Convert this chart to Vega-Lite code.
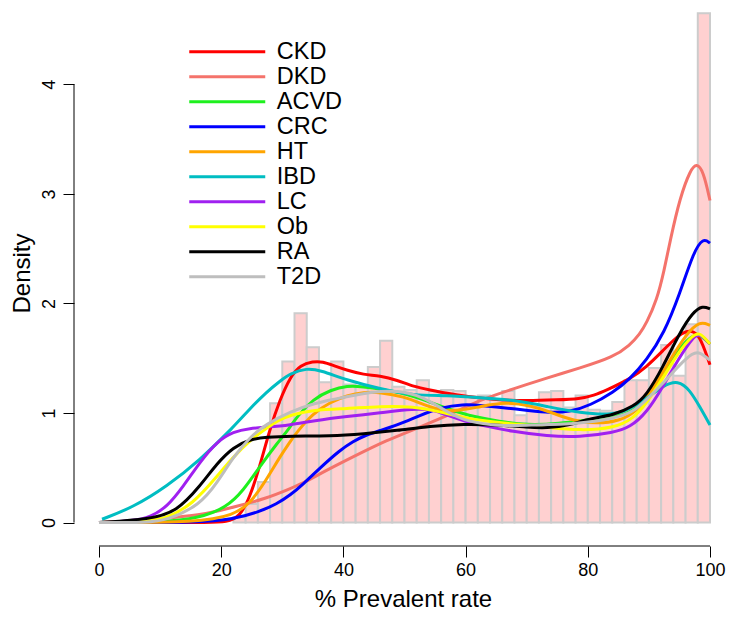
{
  "$schema": "https://vega.github.io/schema/vega-lite/v6.json",
  "width": 658,
  "height": 546,
  "autosize": {"type": "none"},
  "padding": {"left": 74, "top": 0, "right": 0, "bottom": 73},
  "background": "white",
  "config": {
    "view": {"stroke": null},
    "font": "Liberation Sans",
    "axis": {"grid": false, "domain": false, "tickColor": "black", "tickSize": 11, "tickWidth": 1, "labelColor": "black", "titleColor": "black", "labelFont": "Liberation Sans", "titleFont": "Liberation Sans", "titleFontWeight": "normal", "labelFontSize": 18, "titleFontSize": 24}
  },
  "datasets": {
    "hist": [
      {"x0": 22, "x1": 24, "d": 0.05}, {"x0": 24, "x1": 26, "d": 0.17}, {"x0": 26, "x1": 28, "d": 0.37},
      {"x0": 28, "x1": 30, "d": 1.09}, {"x0": 30, "x1": 32, "d": 1.47}, {"x0": 32, "x1": 34, "d": 1.91},
      {"x0": 34, "x1": 36, "d": 1.60}, {"x0": 36, "x1": 38, "d": 1.28}, {"x0": 38, "x1": 40, "d": 1.47},
      {"x0": 40, "x1": 42, "d": 1.26}, {"x0": 42, "x1": 44, "d": 1.24}, {"x0": 44, "x1": 46, "d": 1.42},
      {"x0": 46, "x1": 48, "d": 1.66}, {"x0": 48, "x1": 50, "d": 1.24}, {"x0": 50, "x1": 52, "d": 1.21},
      {"x0": 52, "x1": 54, "d": 1.30}, {"x0": 54, "x1": 56, "d": 1.20}, {"x0": 56, "x1": 58, "d": 1.21},
      {"x0": 58, "x1": 60, "d": 1.20}, {"x0": 60, "x1": 62, "d": 1.15}, {"x0": 62, "x1": 64, "d": 1.16},
      {"x0": 64, "x1": 66, "d": 1.12}, {"x0": 66, "x1": 68, "d": 1.20}, {"x0": 68, "x1": 70, "d": 0.98},
      {"x0": 70, "x1": 72, "d": 1.06}, {"x0": 72, "x1": 74, "d": 1.19}, {"x0": 74, "x1": 76, "d": 1.20},
      {"x0": 76, "x1": 78, "d": 1.05}, {"x0": 78, "x1": 80, "d": 1.16}, {"x0": 80, "x1": 82, "d": 1.03},
      {"x0": 82, "x1": 84, "d": 1.02}, {"x0": 84, "x1": 86, "d": 1.10}, {"x0": 86, "x1": 88, "d": 1.30},
      {"x0": 88, "x1": 90, "d": 1.30}, {"x0": 90, "x1": 92, "d": 1.41}, {"x0": 92, "x1": 94, "d": 1.62},
      {"x0": 94, "x1": 96, "d": 1.34}, {"x0": 96, "x1": 98, "d": 1.81}, {"x0": 98, "x1": 100, "d": 4.65}
    ],
    "dens": [
      {"g": "CKD", "x": 0, "y": 0}, {"g": "CKD", "x": 10, "y": 0}, {"g": "CKD", "x": 18, "y": 0}, {"g": "CKD", "x": 20.9, "y": 0.005},
      {"g": "CKD", "x": 23, "y": 0.05}, {"g": "CKD", "x": 24.7, "y": 0.23}, {"g": "CKD", "x": 26.3, "y": 0.51}, {"g": "CKD", "x": 28, "y": 0.86},
      {"g": "CKD", "x": 29.6, "y": 1.12}, {"g": "CKD", "x": 31.3, "y": 1.33}, {"g": "CKD", "x": 33, "y": 1.44}, {"g": "CKD", "x": 35, "y": 1.47},
      {"g": "CKD", "x": 36.6, "y": 1.47}, {"g": "CKD", "x": 38.5, "y": 1.43}, {"g": "CKD", "x": 40.6, "y": 1.39}, {"g": "CKD", "x": 43.3, "y": 1.35},
      {"g": "CKD", "x": 46, "y": 1.34}, {"g": "CKD", "x": 48.8, "y": 1.30}, {"g": "CKD", "x": 51.5, "y": 1.24}, {"g": "CKD", "x": 54.2, "y": 1.21},
      {"g": "CKD", "x": 56.9, "y": 1.18}, {"g": "CKD", "x": 60.2, "y": 1.15}, {"g": "CKD", "x": 65, "y": 1.12}, {"g": "CKD", "x": 70, "y": 1.11},
      {"g": "CKD", "x": 75, "y": 1.12}, {"g": "CKD", "x": 78.7, "y": 1.13}, {"g": "CKD", "x": 81, "y": 1.16}, {"g": "CKD", "x": 83.1, "y": 1.21},
      {"g": "CKD", "x": 86.9, "y": 1.31}, {"g": "CKD", "x": 89.6, "y": 1.42}, {"g": "CKD", "x": 92.3, "y": 1.57}, {"g": "CKD", "x": 95, "y": 1.72},
      {"g": "CKD", "x": 96.7, "y": 1.76}, {"g": "CKD", "x": 98.1, "y": 1.72}, {"g": "CKD", "x": 99.2, "y": 1.57}, {"g": "CKD", "x": 100, "y": 1.44},

      {"g": "DKD", "x": 0, "y": 0}, {"g": "DKD", "x": 5, "y": 0.01}, {"g": "DKD", "x": 11.1, "y": 0.04}, {"g": "DKD", "x": 16.5, "y": 0.07},
      {"g": "DKD", "x": 19.8, "y": 0.11}, {"g": "DKD", "x": 22, "y": 0.14}, {"g": "DKD", "x": 27.4, "y": 0.22}, {"g": "DKD", "x": 31.3, "y": 0.31},
      {"g": "DKD", "x": 33.4, "y": 0.36}, {"g": "DKD", "x": 37, "y": 0.47}, {"g": "DKD", "x": 41.6, "y": 0.60}, {"g": "DKD", "x": 47, "y": 0.75},
      {"g": "DKD", "x": 52.5, "y": 0.87}, {"g": "DKD", "x": 58, "y": 1.0}, {"g": "DKD", "x": 62.4, "y": 1.12}, {"g": "DKD", "x": 67.8, "y": 1.22},
      {"g": "DKD", "x": 73.3, "y": 1.32}, {"g": "DKD", "x": 78.7, "y": 1.41}, {"g": "DKD", "x": 84.2, "y": 1.51}, {"g": "DKD", "x": 86.9, "y": 1.62},
      {"g": "DKD", "x": 88.5, "y": 1.72}, {"g": "DKD", "x": 89.6, "y": 1.82}, {"g": "DKD", "x": 91.3, "y": 2.03}, {"g": "DKD", "x": 92.5, "y": 2.3},
      {"g": "DKD", "x": 93.5, "y": 2.58}, {"g": "DKD", "x": 95.1, "y": 2.97}, {"g": "DKD", "x": 96.8, "y": 3.22}, {"g": "DKD", "x": 97.8, "y": 3.28},
      {"g": "DKD", "x": 98.9, "y": 3.21}, {"g": "DKD", "x": 100, "y": 2.94},

      {"g": "ACVD", "x": 0, "y": 0}, {"g": "ACVD", "x": 10, "y": 0}, {"g": "ACVD", "x": 16.5, "y": 0.04}, {"g": "ACVD", "x": 20.9, "y": 0.14},
      {"g": "ACVD", "x": 23.6, "y": 0.29}, {"g": "ACVD", "x": 26.3, "y": 0.51}, {"g": "ACVD", "x": 29.1, "y": 0.72}, {"g": "ACVD", "x": 31.3, "y": 0.87},
      {"g": "ACVD", "x": 32.3, "y": 0.96}, {"g": "ACVD", "x": 35.1, "y": 1.13}, {"g": "ACVD", "x": 37.9, "y": 1.21}, {"g": "ACVD", "x": 40.6, "y": 1.25},
      {"g": "ACVD", "x": 43.3, "y": 1.24}, {"g": "ACVD", "x": 46, "y": 1.22}, {"g": "ACVD", "x": 51.5, "y": 1.16}, {"g": "ACVD", "x": 56.9, "y": 1.04},
      {"g": "ACVD", "x": 60.2, "y": 0.98}, {"g": "ACVD", "x": 65.7, "y": 0.92}, {"g": "ACVD", "x": 70, "y": 0.89}, {"g": "ACVD", "x": 75, "y": 0.90},
      {"g": "ACVD", "x": 81.5, "y": 0.95}, {"g": "ACVD", "x": 84.2, "y": 0.96}, {"g": "ACVD", "x": 86.9, "y": 1.0}, {"g": "ACVD", "x": 89.6, "y": 1.12},
      {"g": "ACVD", "x": 92.3, "y": 1.36}, {"g": "ACVD", "x": 95, "y": 1.60}, {"g": "ACVD", "x": 97.2, "y": 1.71}, {"g": "ACVD", "x": 98.3, "y": 1.72},
      {"g": "ACVD", "x": 100, "y": 1.63},

      {"g": "CRC", "x": 0, "y": 0}, {"g": "CRC", "x": 16.5, "y": 0.0}, {"g": "CRC", "x": 22, "y": 0.03}, {"g": "CRC", "x": 26.3, "y": 0.10},
      {"g": "CRC", "x": 29.1, "y": 0.17}, {"g": "CRC", "x": 31.3, "y": 0.25}, {"g": "CRC", "x": 33.4, "y": 0.35}, {"g": "CRC", "x": 36.2, "y": 0.50},
      {"g": "CRC", "x": 39.4, "y": 0.66}, {"g": "CRC", "x": 41.6, "y": 0.74}, {"g": "CRC", "x": 43.3, "y": 0.79}, {"g": "CRC", "x": 46, "y": 0.84},
      {"g": "CRC", "x": 48.8, "y": 0.89}, {"g": "CRC", "x": 52.6, "y": 0.98}, {"g": "CRC", "x": 55.9, "y": 1.05}, {"g": "CRC", "x": 59.6, "y": 1.08},
      {"g": "CRC", "x": 62.4, "y": 1.07}, {"g": "CRC", "x": 67.8, "y": 1.04}, {"g": "CRC", "x": 73.3, "y": 1.0}, {"g": "CRC", "x": 77.1, "y": 1.01},
      {"g": "CRC", "x": 80.4, "y": 1.07}, {"g": "CRC", "x": 84.2, "y": 1.19}, {"g": "CRC", "x": 86.9, "y": 1.31}, {"g": "CRC", "x": 89.6, "y": 1.48},
      {"g": "CRC", "x": 92.5, "y": 1.73}, {"g": "CRC", "x": 95, "y": 2.08}, {"g": "CRC", "x": 97.3, "y": 2.47}, {"g": "CRC", "x": 98.9, "y": 2.60},
      {"g": "CRC", "x": 100, "y": 2.55},

      {"g": "HT", "x": 0, "y": 0}, {"g": "HT", "x": 16.5, "y": 0.0}, {"g": "HT", "x": 22, "y": 0.07}, {"g": "HT", "x": 24.7, "y": 0.17},
      {"g": "HT", "x": 27.4, "y": 0.39}, {"g": "HT", "x": 29.6, "y": 0.60}, {"g": "HT", "x": 31.3, "y": 0.74}, {"g": "HT", "x": 32.3, "y": 0.82},
      {"g": "HT", "x": 35.1, "y": 1.0}, {"g": "HT", "x": 37.9, "y": 1.10}, {"g": "HT", "x": 40.6, "y": 1.16}, {"g": "HT", "x": 43.3, "y": 1.19},
      {"g": "HT", "x": 46, "y": 1.19}, {"g": "HT", "x": 49.9, "y": 1.15}, {"g": "HT", "x": 53, "y": 1.08}, {"g": "HT", "x": 56, "y": 1.02},
      {"g": "HT", "x": 59, "y": 1.02}, {"g": "HT", "x": 62.4, "y": 1.06}, {"g": "HT", "x": 66.7, "y": 1.10}, {"g": "HT", "x": 70.5, "y": 1.07},
      {"g": "HT", "x": 74.3, "y": 1.0}, {"g": "HT", "x": 77.6, "y": 0.93}, {"g": "HT", "x": 81.5, "y": 0.90}, {"g": "HT", "x": 85.3, "y": 0.93},
      {"g": "HT", "x": 88, "y": 1.01}, {"g": "HT", "x": 90.7, "y": 1.22}, {"g": "HT", "x": 93.4, "y": 1.48}, {"g": "HT", "x": 96.1, "y": 1.72},
      {"g": "HT", "x": 98.3, "y": 1.84}, {"g": "HT", "x": 100, "y": 1.80},

      {"g": "IBD", "x": 0.5, "y": 0.03}, {"g": "IBD", "x": 5.6, "y": 0.14}, {"g": "IBD", "x": 11.1, "y": 0.33}, {"g": "IBD", "x": 16.5, "y": 0.57},
      {"g": "IBD", "x": 22, "y": 0.87}, {"g": "IBD", "x": 24.7, "y": 1.04}, {"g": "IBD", "x": 27.4, "y": 1.19}, {"g": "IBD", "x": 29.6, "y": 1.29},
      {"g": "IBD", "x": 31.3, "y": 1.36}, {"g": "IBD", "x": 34, "y": 1.41}, {"g": "IBD", "x": 36.2, "y": 1.39}, {"g": "IBD", "x": 40.6, "y": 1.30},
      {"g": "IBD", "x": 46, "y": 1.22}, {"g": "IBD", "x": 51.5, "y": 1.16}, {"g": "IBD", "x": 56.9, "y": 1.16}, {"g": "IBD", "x": 62.4, "y": 1.14},
      {"g": "IBD", "x": 67.8, "y": 1.12}, {"g": "IBD", "x": 73.3, "y": 1.06}, {"g": "IBD", "x": 78.7, "y": 1.0}, {"g": "IBD", "x": 84.2, "y": 0.98},
      {"g": "IBD", "x": 86.9, "y": 1.04}, {"g": "IBD", "x": 89.6, "y": 1.13}, {"g": "IBD", "x": 92.3, "y": 1.25}, {"g": "IBD", "x": 94.8, "y": 1.30},
      {"g": "IBD", "x": 96.7, "y": 1.21}, {"g": "IBD", "x": 98.3, "y": 1.06}, {"g": "IBD", "x": 100, "y": 0.89},

      {"g": "LC", "x": 0, "y": 0}, {"g": "LC", "x": 5.6, "y": 0.015}, {"g": "LC", "x": 8.4, "y": 0.05}, {"g": "LC", "x": 11.1, "y": 0.14},
      {"g": "LC", "x": 13.8, "y": 0.33}, {"g": "LC", "x": 16.5, "y": 0.55}, {"g": "LC", "x": 19.3, "y": 0.74}, {"g": "LC", "x": 22, "y": 0.83},
      {"g": "LC", "x": 24.7, "y": 0.86}, {"g": "LC", "x": 27.4, "y": 0.87}, {"g": "LC", "x": 31.3, "y": 0.89}, {"g": "LC", "x": 35.1, "y": 0.93},
      {"g": "LC", "x": 40.6, "y": 0.97}, {"g": "LC", "x": 46, "y": 1.0}, {"g": "LC", "x": 51.5, "y": 1.04}, {"g": "LC", "x": 54.8, "y": 1.03},
      {"g": "LC", "x": 56.9, "y": 0.98}, {"g": "LC", "x": 60.2, "y": 0.92}, {"g": "LC", "x": 62.4, "y": 0.89}, {"g": "LC", "x": 67.8, "y": 0.83},
      {"g": "LC", "x": 73.3, "y": 0.79}, {"g": "LC", "x": 78.7, "y": 0.78}, {"g": "LC", "x": 84.2, "y": 0.82}, {"g": "LC", "x": 86.9, "y": 0.87},
      {"g": "LC", "x": 89.6, "y": 1.0}, {"g": "LC", "x": 92.3, "y": 1.24}, {"g": "LC", "x": 95, "y": 1.51}, {"g": "LC", "x": 97.2, "y": 1.69},
      {"g": "LC", "x": 98.3, "y": 1.73}, {"g": "LC", "x": 100, "y": 1.63},

      {"g": "Ob", "x": 0, "y": 0}, {"g": "Ob", "x": 8, "y": 0.01}, {"g": "Ob", "x": 11.1, "y": 0.04}, {"g": "Ob", "x": 15.4, "y": 0.17},
      {"g": "Ob", "x": 19.3, "y": 0.42}, {"g": "Ob", "x": 22, "y": 0.60}, {"g": "Ob", "x": 24.7, "y": 0.75}, {"g": "Ob", "x": 27.4, "y": 0.86},
      {"g": "Ob", "x": 29.6, "y": 0.94}, {"g": "Ob", "x": 31.3, "y": 0.98}, {"g": "Ob", "x": 35.1, "y": 1.03}, {"g": "Ob", "x": 40.6, "y": 1.04},
      {"g": "Ob", "x": 46, "y": 1.06}, {"g": "Ob", "x": 51.5, "y": 1.06}, {"g": "Ob", "x": 55.9, "y": 1.01}, {"g": "Ob", "x": 60.2, "y": 0.95},
      {"g": "Ob", "x": 65.7, "y": 0.91}, {"g": "Ob", "x": 70, "y": 0.89}, {"g": "Ob", "x": 73.3, "y": 0.87}, {"g": "Ob", "x": 78.7, "y": 0.84},
      {"g": "Ob", "x": 84.2, "y": 0.86}, {"g": "Ob", "x": 87.5, "y": 0.95}, {"g": "Ob", "x": 89.6, "y": 1.09}, {"g": "Ob", "x": 92.3, "y": 1.32},
      {"g": "Ob", "x": 95, "y": 1.57}, {"g": "Ob", "x": 97.2, "y": 1.71}, {"g": "Ob", "x": 98.3, "y": 1.74}, {"g": "Ob", "x": 100, "y": 1.63},

      {"g": "RA", "x": 0, "y": 0}, {"g": "RA", "x": 8.4, "y": 0.03}, {"g": "RA", "x": 12.7, "y": 0.10}, {"g": "RA", "x": 16.5, "y": 0.33},
      {"g": "RA", "x": 19.3, "y": 0.54}, {"g": "RA", "x": 22, "y": 0.69}, {"g": "RA", "x": 24.7, "y": 0.76}, {"g": "RA", "x": 27.4, "y": 0.78},
      {"g": "RA", "x": 31.3, "y": 0.79}, {"g": "RA", "x": 37.9, "y": 0.79}, {"g": "RA", "x": 43.3, "y": 0.81}, {"g": "RA", "x": 48.8, "y": 0.84},
      {"g": "RA", "x": 54.2, "y": 0.88}, {"g": "RA", "x": 59.6, "y": 0.90}, {"g": "RA", "x": 65.7, "y": 0.89}, {"g": "RA", "x": 70, "y": 0.87},
      {"g": "RA", "x": 73.3, "y": 0.86}, {"g": "RA", "x": 77.1, "y": 0.89}, {"g": "RA", "x": 80.4, "y": 0.95}, {"g": "RA", "x": 84.2, "y": 0.98},
      {"g": "RA", "x": 87.5, "y": 1.06}, {"g": "RA", "x": 89.6, "y": 1.16}, {"g": "RA", "x": 92.3, "y": 1.42}, {"g": "RA", "x": 95, "y": 1.73},
      {"g": "RA", "x": 97.2, "y": 1.92}, {"g": "RA", "x": 98.8, "y": 1.98}, {"g": "RA", "x": 100, "y": 1.95},

      {"g": "T2D", "x": 0, "y": 0}, {"g": "T2D", "x": 8, "y": 0.0}, {"g": "T2D", "x": 11.1, "y": 0.02}, {"g": "T2D", "x": 16.5, "y": 0.16},
      {"g": "T2D", "x": 19.3, "y": 0.36}, {"g": "T2D", "x": 22, "y": 0.60}, {"g": "T2D", "x": 24.7, "y": 0.78}, {"g": "T2D", "x": 27.4, "y": 0.90},
      {"g": "T2D", "x": 31.3, "y": 1.01}, {"g": "T2D", "x": 35.1, "y": 1.09}, {"g": "T2D", "x": 40.6, "y": 1.15}, {"g": "T2D", "x": 44.4, "y": 1.19},
      {"g": "T2D", "x": 48.8, "y": 1.21}, {"g": "T2D", "x": 53.1, "y": 1.15}, {"g": "T2D", "x": 56.9, "y": 1.01}, {"g": "T2D", "x": 60.2, "y": 0.92},
      {"g": "T2D", "x": 65.7, "y": 0.88}, {"g": "T2D", "x": 70, "y": 0.89}, {"g": "T2D", "x": 78.7, "y": 0.90}, {"g": "T2D", "x": 84.2, "y": 0.95},
      {"g": "T2D", "x": 87.5, "y": 1.01}, {"g": "T2D", "x": 89.6, "y": 1.12}, {"g": "T2D", "x": 92.3, "y": 1.27}, {"g": "T2D", "x": 95, "y": 1.44},
      {"g": "T2D", "x": 97.2, "y": 1.55}, {"g": "T2D", "x": 98.3, "y": 1.56}, {"g": "T2D", "x": 100, "y": 1.48}
    ]
  },
  "layer": [
    {
      "data": {"name": "hist"},
      "mark": {"type": "bar", "fill": "#FFD0D0", "stroke": "#CCCCCC", "strokeWidth": 2},
      "encoding": {
        "x": {"field": "x0", "type": "quantitative", "scale": {"domain": [-4.09, 103.6], "nice": false, "zero": false},
              "axis": {"title": "% Prevalent rate", "values": [0, 20, 40, 60, 80, 100], "format": "d", "labelPadding": 4, "titlePadding": 8, "labelFlush": false}},
        "x2": {"field": "x1"},
        "y": {"field": "d", "type": "quantitative", "scale": {"domain": [-0.214, 4.77], "nice": false, "zero": false},
              "axis": {"title": "Density", "values": [0, 1, 2, 3, 4], "format": "d", "labelAngle": -90, "labelPadding": 5, "titlePadding": 6, "labelFlush": false}},
        "y2": {"datum": 0}
      }
    },
    {
      "data": {"values": [{"a": 0, "b": 100}]},
      "mark": {"type": "rule", "color": "black", "strokeWidth": 1},
      "encoding": {"x": {"field": "a", "type": "quantitative"}, "x2": {"field": "b"}, "y": {"datum": -0.214}}
    },
    {
      "data": {"values": [{"a": 0, "b": 4}]},
      "mark": {"type": "rule", "color": "black", "strokeWidth": 1},
      "encoding": {"y": {"field": "a", "type": "quantitative"}, "y2": {"field": "b"}, "x": {"datum": -4.09}}
    },
    {
      "data": {"name": "dens"},
      "mark": {"type": "line", "strokeWidth": 3, "interpolate": "basis"},
      "encoding": {
        "x": {"field": "x", "type": "quantitative"},
        "y": {"field": "y", "type": "quantitative"},
        "color": {"field": "g", "type": "nominal",
          "scale": {"domain": ["CKD", "DKD", "ACVD", "CRC", "HT", "IBD", "LC", "Ob", "RA", "T2D"],
                    "range": ["#FF0000", "#F4736B", "#1EF01E", "#0000FF", "#FFA500", "#00BDC2", "#A020F0", "#FFFF00", "#000000", "#BEBEBE"]},
          "legend": {"orient": "none", "legendX": 103.5, "legendY": 40, "title": null, "padding": 0,
                     "symbolType": "M-4,0H4", "symbolSize": 361, "symbolStrokeWidth": 3, "symbolOffset": 38,
                     "labelOffset": 37.75, "labelFontSize": 23.5, "labelFont": "Liberation Sans", "labelColor": "black",
                     "rowPadding": 0, "labelLimit": 300}
        }
      }
    }
  ]
}
